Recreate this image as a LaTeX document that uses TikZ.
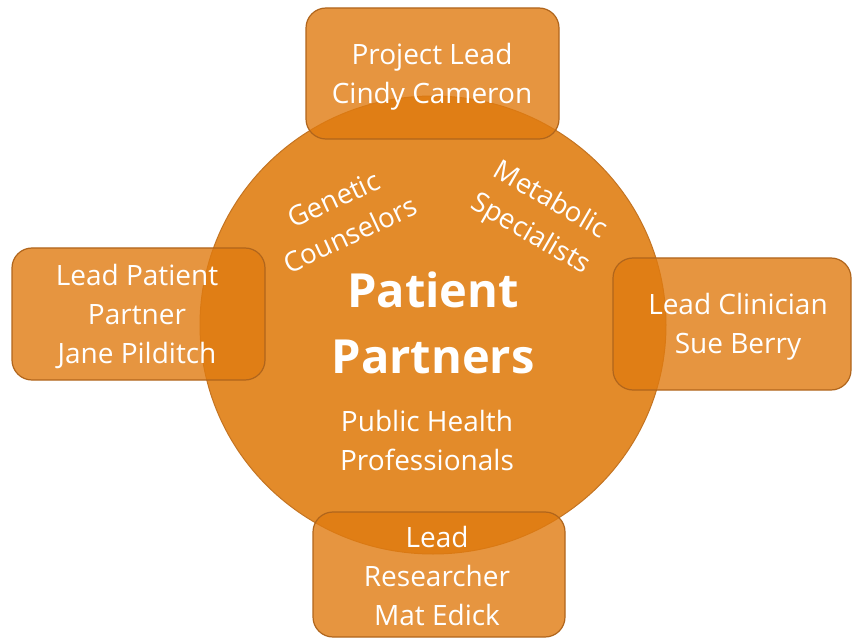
\documentclass[tikz,border=0pt]{standalone}
\usepackage{fontspec}
\setmainfont{Open Sans}
\definecolor{circfill}{HTML}{E38B2A}
\definecolor{circline}{HTML}{C47422}
\definecolor{boxfill}{HTML}{E07B10}
\definecolor{boxline}{HTML}{B0651C}
\begin{document}
\begin{tikzpicture}[x=1pt,y=-1pt,
  rolebox/.style={fill=boxfill, fill opacity=0.8, draw=boxline, draw opacity=1, line width=1.2pt, rounded corners=20pt},
  boxtext/.style={text=white, font=\fontsize{28}{39}\selectfont, align=center, anchor=base, inner sep=0pt},
  hubtext/.style={text=white, font=\fontsize{27.5}{39}\selectfont, align=center, inner sep=0pt},
  bigtext/.style={text=white, font=\fontsize{47}{66}\selectfont\bfseries, align=center, anchor=base, inner sep=0pt}]
\useasboundingbox (0,0) rectangle (852,639);
% central circle
\fill[circfill] (433,325) ellipse [x radius=233, y radius=229];
\draw[circline, line width=1pt] (433,325) ellipse [x radius=233, y radius=229];
\coordinate (hub) at (433,325);
% boxes
\path[rolebox] (306,8) rectangle (559,139);
\path[rolebox] (12,248) rectangle (265,380);
\path[rolebox] (613,258) rectangle (851,390);
\path[rolebox] (313,512) rectangle (565,637);
% box texts (anchor = baseline of last line)
\node[boxtext] (lead) at (432,104) {Project Lead\\Cindy Cameron};
\node[boxtext] (patlead) at (137,363) {Lead Patient\\Partner\\Jane Pilditch};
\node[boxtext] (clin) at (738,353) {Lead Clinician\\Sue Berry};
\node[boxtext] (res) at (437,625) {Lead\\Researcher\\Mat Edick};
% hub texts
\node[bigtext] (pp) at (433,373) {Patient\\Partners};
\node[boxtext] (pub) at (427,470) {Public Health\\Professionals};
\node[hubtext, rotate=25] (gen) at (342,217) {Genetic\\Counselors};
\node[hubtext, rotate=-30] (met) at (540,218) {Metabolic\\Specialists};
\end{tikzpicture}
\end{document}
